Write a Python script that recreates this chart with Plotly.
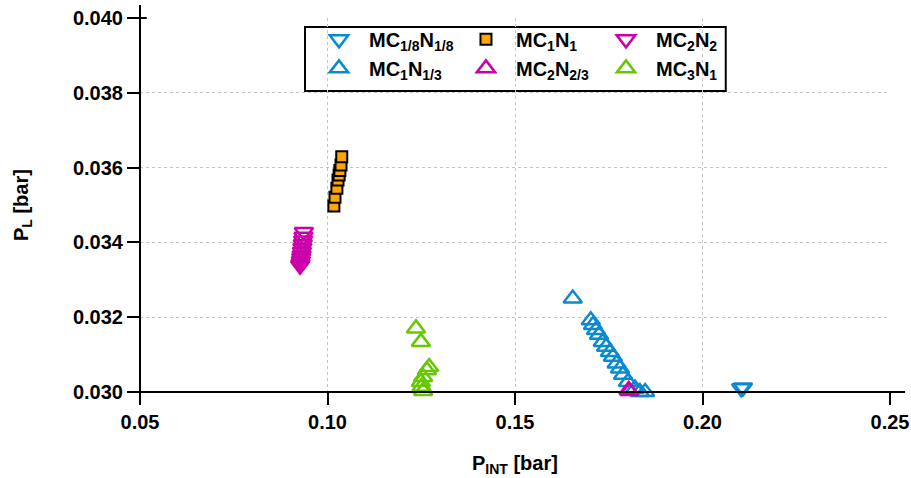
import plotly.graph_objects as go

# ---- data ----
mc18_x = [0.2103, 0.2108]
mc18_y = [0.03010, 0.03012]

mc1n1_x = [0.1017, 0.1020, 0.1025, 0.1028, 0.1031, 0.1033, 0.1036, 0.1038]
mc1n1_y = [0.03497, 0.03521, 0.03545, 0.03567, 0.03580, 0.03592, 0.03607, 0.03629]

mc2n2_x = [0.0937, 0.0936, 0.0935, 0.0934, 0.0933, 0.0932, 0.0931, 0.0930, 0.0929, 0.0928, 0.0927]
mc2n2_y = [0.03428, 0.03415, 0.03405, 0.03395, 0.03385, 0.03375, 0.03365, 0.03358, 0.03350, 0.03343, 0.03338]

mc1n13_x = [0.1654, 0.1702, 0.1708, 0.1716, 0.1724, 0.1734, 0.1743, 0.1753, 0.1761, 0.1771,
            0.1780, 0.1788, 0.1801, 0.1820, 0.1833, 0.1847]
mc1n13_y = [0.03250, 0.03192, 0.03179, 0.03166, 0.03153, 0.03134, 0.03121, 0.03107, 0.03094, 0.03076,
            0.03063, 0.03046, 0.03027, 0.03009, 0.03000, 0.03000]

mc2n23_x = [0.1803, 0.1805]
mc2n23_y = [0.03005, 0.03003]

mc3n1_x = [0.1236, 0.1249, 0.1271, 0.1265, 0.1255, 0.1249, 0.1251, 0.1255]
mc3n1_y = [0.03170, 0.03134, 0.03067, 0.03058, 0.03040, 0.03027, 0.03014, 0.03003]

x_ticks = [0.05, 0.10, 0.15, 0.20, 0.25]
y_ticks = [0.030, 0.032, 0.034, 0.036, 0.038, 0.040]

BLUE = "#0A8BD0"
MAG = "#CC00AA"
GREEN = "#66C800"
ORANGE = "#FFA500"
FONT = "Liberation Sans"
bold20 = dict(family=FONT, size=20, color="black", weight="bold")

fig = go.Figure()

def tri(x, y, name, sym, color, legend):
    fig.add_trace(go.Scatter(
        x=x, y=y, mode="markers", name=name, legend=legend, cliponaxis=False,
        marker=dict(symbol=sym, size=16, color="rgba(0,0,0,0)",
                    line=dict(color=color, width=2.5))))

tri(mc18_x, mc18_y, "MC<sub>1/8</sub>N<sub>1/8</sub>", "triangle-down", BLUE, "legend")
tri(mc1n13_x, mc1n13_y, "MC<sub>1</sub>N<sub>1/3</sub>", "triangle-up", BLUE, "legend")
fig.add_trace(go.Scatter(
    x=mc1n1_x, y=mc1n1_y, mode="markers", name="MC<sub>1</sub>N<sub>1</sub>",
    legend="legend2", cliponaxis=False,
    marker=dict(symbol="square", size=11, color=ORANGE, line=dict(color="black", width=2))))
tri(mc2n23_x, mc2n23_y, "MC<sub>2</sub>N<sub>2/3</sub>", "triangle-up", MAG, "legend2")
tri(mc2n2_x, mc2n2_y, "MC<sub>2</sub>N<sub>2</sub>", "triangle-down", MAG, "legend3")
tri(mc3n1_x, mc3n1_y, "MC<sub>3</sub>N<sub>1</sub>", "triangle-up", GREEN, "legend3")

leg_common = dict(orientation="v", xanchor="left", yanchor="top", bgcolor="rgba(0,0,0,0)",
                  borderwidth=0, itemwidth=50, tracegroupgap=0, y=0.995,
                  font=dict(family=FONT, size=20, color="black", weight="bold"))

fig.update_layout(
    width=911, height=478,
    margin=dict(l=140, r=21, t=18, b=86),
    plot_bgcolor="white", paper_bgcolor="white",
    showlegend=True,
    legend=dict(x=0.2253, **leg_common),
    legend2=dict(x=0.4213, **leg_common),
    legend3=dict(x=0.608, **leg_common),
    xaxis=dict(range=[0.05, 0.25], tickvals=x_ticks, tickformat=".2f", automargin=False,
               showgrid=True, gridcolor="#c4c4c4", griddash="dot", gridwidth=1,
               ticks="outside", ticklen=12, tickwidth=2, tickcolor="black",
               showline=False, zeroline=False, tickfont=bold20),
    yaxis=dict(range=[0.030, 0.040], tickvals=y_ticks, tickformat=".3f", automargin=False,
               showgrid=True, gridcolor="#c4c4c4", griddash="dot", gridwidth=1,
               ticks="outside", ticklen=12, tickwidth=2, tickcolor="black",
               showline=False, zeroline=False, tickfont=bold20),
    annotations=[
        dict(text="P<sub>INT</sub> [bar]", xref="paper", yref="paper", x=0.5, y=0,
             xanchor="center", yanchor="middle", yshift=-72, showarrow=False, font=bold20),
        dict(text="P<sub>L</sub> [bar]", xref="paper", yref="paper", x=0, y=0.5,
             xanchor="center", yanchor="middle", xshift=-118, textangle=-90,
             showarrow=False, font=bold20),
    ],
    shapes=[
        dict(type="line", xref="paper", yref="paper", x0=-0.016, x1=1.02, y0=0, y1=0,
             line=dict(color="black", width=2)),
        dict(type="line", xref="paper", yref="paper", x0=0, x1=0, y0=-0.03, y1=1.035,
             line=dict(color="black", width=2)),
        dict(type="line", xref="paper", yref="paper", x0=-0.016, x1=0.009, y0=1, y1=1,
             line=dict(color="black", width=2)),
        dict(type="rect", xref="paper", yref="paper", x0=0.22, x1=0.781, y0=0.805, y1=0.976,
             line=dict(color="black", width=2), fillcolor="white", layer="below"),
    ],
)

fig.write_html("out.html")
